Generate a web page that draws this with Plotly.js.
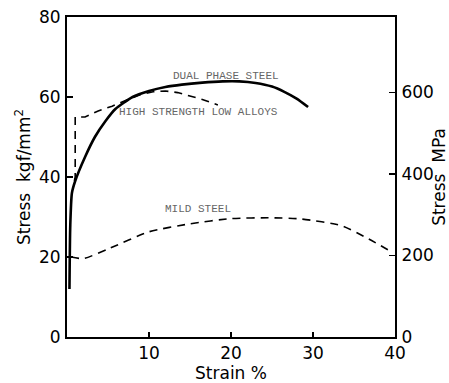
<!DOCTYPE html>
<html>
<head>
<meta charset="utf-8">
<script src="https://cdn.plot.ly/plotly-3.0.1.min.js"></script>
<style>html,body{margin:0;padding:0;background:#fff;}#chart{width:449px;height:383px;}</style>
</head>
<body>
<div id="chart"></div>
<script>
// Strain (%) and stress (kgf/mm^2)
const dualStrain = [0.3, 0.4, 0.6, 1.0, 2.2, 3.4, 4.7, 5.9, 8.0, 10.0, 12.0, 14.0, 16.5, 19.0, 21.0, 23.0, 25.0, 26.5, 28.0, 29.4];
const dualStress = [12, 28, 36, 39, 45, 50, 54, 57, 60, 61.5, 62.5, 63.1, 63.6, 63.9, 63.9, 63.5, 62.6, 61.3, 59.6, 57.5];

const hslaStrain = [0.9, 1.0, 1.0, 2.2, 3.8, 5.5, 7.0, 9.0, 10.5, 12.0, 13.5, 15.0, 16.5, 18.4];
const hslaStress = [39, 40, 55, 55, 56.5, 57.7, 59, 60.6, 61.3, 61.5, 61.1, 60.3, 59.4, 58];

const mildStrain = [0.5, 2.0, 5.0, 10.0, 15.0, 20.0, 25.0, 28.6, 33.5, 36.8, 39.4];
const mildStress = [20, 19.6, 22, 26.3, 28.3, 29.6, 29.8, 29.5, 27.8, 24.5, 21.5];

const xTicks = [10, 20, 30, 40];
const yTicks = [0, 20, 40, 60, 80];
const mpaTicks = [0, 200, 400, 600];
const KGF_TO_MPA = 9.80665;

const labels = [
  {text: "DUAL PHASE STEEL", x: 19.4, y: 65.3},
  {text: "HIGH STRENGTH LOW ALLOYS", x: 16.0, y: 56.2},
  {text: "MILD STEEL", x: 16.0, y: 31.9}
];

const tickFont = {family: "DejaVu Sans, sans-serif", size: 17, color: "#000"};

const traces = [
  {x: dualStrain, y: dualStress, mode: "lines", line: {color: "#000", width: 2.6, shape: "spline", smoothing: 0.6}, hoverinfo: "skip"},
  {x: hslaStrain, y: hslaStress, mode: "lines", line: {color: "#000", width: 1.6, dash: "8px,6px"}, hoverinfo: "skip"},
  {x: mildStrain, y: mildStress, mode: "lines", line: {color: "#000", width: 1.6, dash: "8px,6px", shape: "spline", smoothing: 0.6}, hoverinfo: "skip"},
  {x: [0], y: [0], yaxis: "y2", mode: "markers", marker: {opacity: 0}, hoverinfo: "skip"}
];

const layout = {
  width: 449, height: 383,
  margin: {l: 67, r: 54, t: 17, b: 46},
  paper_bgcolor: "#fff", plot_bgcolor: "#fff",
  showlegend: false,
  xaxis: {
    range: [0, 40], tickvals: xTicks, ticks: "inside", ticklen: 5, tickwidth: 1.5, tickcolor: "#000",
    showgrid: false, zeroline: false, showline: true, linecolor: "#000", linewidth: 2, mirror: true,
    tickfont: tickFont, ticklabelstandoff: 0,
    title: {text: "Strain %", font: {family: "DejaVu Sans, sans-serif", size: 17, color: "#000"}, standoff: 0}
  },
  yaxis: {
    range: [0, 80], tickvals: yTicks, ticks: "inside", ticklen: 6, tickwidth: 1.5, tickcolor: "#000",
    showgrid: false, zeroline: false, showline: true, linecolor: "#000", linewidth: 2,
    tickfont: tickFont, ticklabelstandoff: 1,
    title: {text: "Stress  kgf/mm<sup>2</sup>", font: {family: "DejaVu Sans, sans-serif", size: 17, color: "#000"}, standoff: 4}
  },
  yaxis2: {
    overlaying: "y", side: "right", range: [0, 80 * KGF_TO_MPA], tickvals: mpaTicks,
    ticks: "inside", ticklen: 6, tickwidth: 1.5, tickcolor: "#000",
    showgrid: false, zeroline: false, showline: true, linecolor: "#000", linewidth: 2,
    tickfont: tickFont, ticklabelstandoff: 1,
    title: {text: "Stress  MPa", font: {family: "DejaVu Sans, sans-serif", size: 17, color: "#000"}, standoff: 2}
  },
  annotations: labels.map(l => ({
    text: l.text, x: l.x, y: l.y, xref: "x", yref: "y", showarrow: false,
    font: {family: "Liberation Mono, monospace", size: 11, color: "#666"}
  }))
};

Plotly.newPlot("chart", traces, layout, {staticPlot: true, displayModeBar: false});
</script>
</body>
</html>
